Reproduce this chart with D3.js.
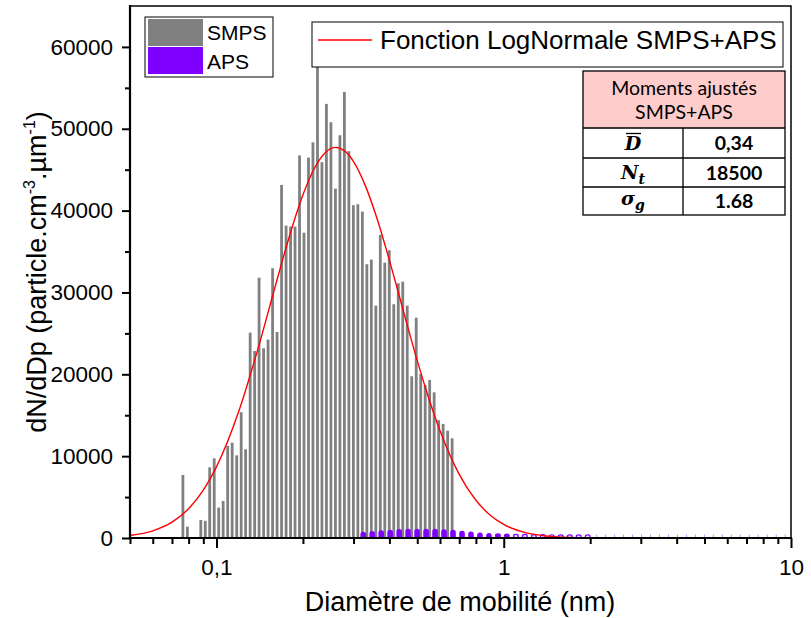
<!DOCTYPE html>
<html><head><meta charset="utf-8">
<script src="https://cdn.jsdelivr.net/npm/d3@7"></script>
<style>body{margin:0;background:#fff}svg{display:block}</style>
</head><body><svg id="c" width="811" height="618"></svg>
<script>
// ---------- DATA ----------
const smpsDiam = [0.0764,0.0792,0.0821,0.0851,0.0882,0.0914,0.0947,0.0982,0.1018,0.1055,
 0.1094,0.1134,0.1176,0.1219,0.1263,0.1310,0.1358,0.1407,0.1459,0.1512,
 0.1568,0.1625,0.1685,0.1747,0.1811,0.1877,0.1946,0.2017,0.2091,0.2167,
 0.2247,0.2329,0.2414,0.2503,0.2595,0.2690,0.2788,0.2890,0.2996,0.3106,
 0.3220,0.3338,0.3460,0.3587,0.3718,0.3854,0.3995,0.4142,0.4294,0.4451,
 0.4614,0.4783,0.4958,0.5140,0.5328,0.5523,0.5725,0.5935,0.6153,0.6378,0.6612];
const smpsValues = [7700,1380,0,0,2200,2100,8640,9740,3710,4520,
 11240,11650,10100,15360,10840,25090,22850,31810,23180,24240,
 32960,25170,43140,38170,38050,38050,46740,37310,46480,48350,
 58210,45920,53040,50800,42690,49210,54500,47260,40660,40780,
 39880,33450,34010,28390,37030,33640,35160,28560,31130,31320,
 28390,19760,26920,20040,18700,19310,17800,14400,13930,13110,12180];
const apsDiam = [0.3243,0.3485,0.3745,0.4024,0.4325,0.4647,0.4994,0.5367,0.5767,0.6197,
 0.6660,0.7157,0.7691,0.8265,0.8881,0.9544,1.0256,1.1021,1.1843,1.2727,
 1.3677,1.4697,1.5794,1.6972,1.8238,1.9599,2.1061,2.2632,2.4321,2.6135,
 2.8085,3.0181,3.2432,3.4852,3.7452,4.0246,4.3249,4.6476,4.9943,5.3669,
 5.7674,6.1976,6.6600,7.1569,7.6909,8.2647,8.8813,9.5439];
const apsValues = [770,855,940,1015,1100,1140,1140,1120,1120,1080,
 1000,900,780,660,600,530,480,430,400,370,
 350,330,320,300,290,280,0,0,0,0,
 0,0,0,0,0,0,0,0,0,0,
 0,0,0,0,0,0,0,0];
const fitDiam = [0.05,0.06,0.07,0.08,0.09,0.10,0.12,0.14,0.16,0.18,0.20,0.22,0.24,0.26,0.28,0.30,
 0.33,0.36,0.40,0.45,0.50,0.55,0.60,0.70,0.80,0.90,1.0,1.2,1.4,1.6,1.8,2.0,2.5,3.0,5.0,10];
const fitValues = [303,870,1930,3584,5856,8694,15632,23320,30696,37028,41928,45269,47139,47729,47270,45996,
 43023,39302,33922,27403,21673,16917,13102,7775,4606,2748,1657,627,250,105,46,21,2,0,0,0];
const xMajorTicks = [0.1,1,10];
const xTickLabels = ["0,1","1","10"];
const xMinorTicks = [0.05,0.06,0.07,0.08,0.09,0.2,0.3,0.4,0.5,0.6,0.7,0.8,0.9,2,3,4,5,6,7,8,9];
const yMajorTicks = [0,10000,20000,30000,40000,50000,60000];
const yMinorTicks = [5000,15000,25000,35000,45000,55000];
const legendLabels = ["SMPS","APS"];
const fitLabel = "Fonction LogNormale SMPS+APS";
const tableTitle = ["Moments ajustés","SMPS+APS"];
const tableValues = ["0,34","18500","1.68"];

// ---------- LAYOUT ----------
const L=130, R=791, T=6, B=538;
const svg = d3.select("#c");
const x = d3.scaleLog().domain([0.05,10]).range([L,R]);
const y = d3.scaleLinear().domain([0,65000]).range([B,T]);
const GRAY="#808080", PURPLE="#8000ff", RED="#ff0000";
const FONT="'Liberation Sans', Arial, sans-serif";

svg.append("defs").append("clipPath").attr("id","clip")
  .append("rect").attr("x",L).attr("y",T).attr("width",R-L).attr("height",B-T);
const plot = svg.append("g").attr("clip-path","url(#clip)");

// SMPS bars
const bw = 2.8;
plot.selectAll("rect.smps").data(smpsDiam.map((d,i)=>({d,v:smpsValues[i]})).filter(e=>e.v>0))
  .join("rect").attr("class","smps")
  .attr("x",e=>x(e.d)-bw/2).attr("width",bw)
  .attr("y",e=>y(e.v)).attr("height",e=>B-y(e.v))
  .attr("fill",GRAY);

// APS bars (rounded tops)
const aps = apsDiam.map((d,i)=>({d,v:apsValues[i]}));
const r = 2.8;
plot.selectAll("path.aps").data(aps.filter(e=>e.v>=600)).join("path").attr("class","aps")
  .attr("d",e=>{const cx=x(e.d), yt=y(e.v);
     return `M${cx-r},${B}L${cx-r},${yt+r}A${r},${r} 0 0 1 ${cx+r},${yt+r}L${cx+r},${B}Z`;})
  .attr("fill",PURPLE);
plot.selectAll("ellipse.aps").data(aps.filter(e=>e.v>0 && e.v<600)).join("ellipse").attr("class","aps")
  .attr("cx",e=>x(e.d)).attr("cy",e=>(y(e.v)+B-1)/2+0.3)
  .attr("rx",2.4).attr("ry",e=>Math.max(1.7,(B-1-y(e.v))/2))
  .attr("fill",e=>e.v>=450? PURPLE : "#e8d8ff").attr("stroke",PURPLE).attr("stroke-width",1.2);
plot.selectAll("line.aps0").data(aps.filter(e=>e.v===0)).join("line").attr("class","aps0")
  .attr("x1",e=>x(e.d)).attr("x2",e=>x(e.d)).attr("y1",B-3.5).attr("y2",B)
  .attr("stroke","#b890ff").attr("stroke-width",1);

// Fit curve
const line = d3.line().x((d,i)=>x(fitDiam[i])).y(d=>y(d)).curve(d3.curveMonotoneX);
plot.append("path").datum(fitValues).attr("d",line)
  .attr("fill","none").attr("stroke",RED).attr("stroke-width",1.4);

// Axes
const ax = svg.append("g").attr("transform",`translate(0,${B})`);
ax.call(d3.axisBottom(x).tickValues(xMajorTicks).tickSize(10).tickFormat((d,i)=>xTickLabels[i]).tickPadding(6));
const axm = svg.append("g").attr("transform",`translate(0,${B})`);
axm.call(d3.axisBottom(x).tickValues(xMinorTicks).tickSize(6).tickFormat(""));
const ay = svg.append("g").attr("transform",`translate(${L},0)`);
ay.call(d3.axisLeft(y).tickValues(yMajorTicks).tickSize(8).tickFormat(d3.format("d")).tickPadding(9));
const aym = svg.append("g").attr("transform",`translate(${L},0)`);
aym.call(d3.axisLeft(y).tickValues(yMinorTicks).tickSize(5).tickFormat(""));
[ax,axm,ay,aym].forEach(g=>{
  g.select(".domain").remove();
  g.selectAll(".tick line").attr("stroke","#000").attr("stroke-width",2);
  g.selectAll(".tick text").attr("font-family",FONT).attr("font-size",22.5).attr("fill","#000");
});
ax.selectAll(".tick text").attr("dy","0.95em");
// frame
svg.append("rect").attr("x",L).attr("y",T).attr("width",R-L).attr("height",B-T)
  .attr("fill","none").attr("stroke","#000").attr("stroke-width",1.5);
svg.append("line").attr("x1",L-1).attr("x2",R+1).attr("y1",B).attr("y2",B).attr("stroke","#000").attr("stroke-width",2.2);
svg.append("line").attr("x1",L).attr("x2",L).attr("y1",T-1).attr("y2",B+1).attr("stroke","#000").attr("stroke-width",2.2);

// Axis titles
svg.append("text").attr("x",460).attr("y",611).attr("text-anchor","middle")
  .attr("font-family",FONT).attr("font-size",27).text("Diamètre de mobilité (nm)");
const yt = svg.append("text").attr("transform","translate(46,272) rotate(-90)")
  .attr("text-anchor","middle").attr("font-family",FONT).attr("font-size",27);
yt.append("tspan").text("dN/dDp (particle.cm");
yt.append("tspan").attr("font-size",16).attr("dy",-11).text("-3");
yt.append("tspan").attr("dy",11).text(".µm");
yt.append("tspan").attr("font-size",16).attr("dy",-11).text("-1");
yt.append("tspan").attr("dy",11).text(")");

// Legend 1
const lg = svg.append("g");
lg.append("rect").attr("x",145).attr("y",17).attr("width",128).attr("height",60)
  .attr("fill","#fff").attr("stroke","#000").attr("stroke-width",1);
[GRAY,PURPLE].forEach((c,i)=>{
  lg.append("rect").attr("x",148).attr("y",19+i*28).attr("width",55).attr("height",27).attr("fill",c);
  lg.append("text").attr("x",207).attr("y",40+i*29).attr("font-family",FONT).attr("font-size",21).text(legendLabels[i]);
});
// Legend 2
const lg2 = svg.append("g");
lg2.append("rect").attr("x",312).attr("y",22).attr("width",471).attr("height",45)
  .attr("fill","#fff").attr("stroke","#000").attr("stroke-width",1);
lg2.append("line").attr("x1",318).attr("x2",372).attr("y1",40).attr("y2",40).attr("stroke",RED).attr("stroke-width",1.4);
lg2.append("text").attr("x",380).attr("y",49).attr("font-family",FONT).attr("font-size",26).text(fitLabel);

// Table
const tb = svg.append("g");
const tx0=583, tx1=785, tmid=683;
const rowsY=[71,128,158,187,215];
tb.append("rect").attr("x",tx0).attr("y",rowsY[0]).attr("width",tx1-tx0).attr("height",rowsY[1]-rowsY[0]).attr("fill","#ffcccc");
tb.append("rect").attr("x",tx0).attr("y",rowsY[1]).attr("width",tx1-tx0).attr("height",rowsY[4]-rowsY[1]).attr("fill","#fff");
const TF="Lato, 'Open Sans', sans-serif";
tb.append("text").attr("x",(tx0+tx1)/2).attr("y",95).attr("text-anchor","middle").attr("font-family",TF).attr("font-size",19.5).text(tableTitle[0]);
tb.append("text").attr("x",(tx0+tx1)/2).attr("y",119).attr("text-anchor","middle").attr("font-family",TF).attr("font-size",19.5).text(tableTitle[1]);
for(let i=0;i<3;i++){
  const cy=(rowsY[i+1]+rowsY[i+2])/2;
  tb.append("text").attr("x",(tmid+tx1)/2).attr("y",cy+7).attr("text-anchor","middle")
    .attr("font-family",TF).attr("font-weight","bold").attr("font-size",19.5).text(tableValues[i]);
}
const MF="'DejaVu Serif','Liberation Serif',serif";
tb.append("text").attr("x",633).attr("y",(rowsY[1]+rowsY[2])/2+7).attr("text-anchor","middle")
  .attr("font-family",MF).attr("font-style","italic").attr("font-weight","bold").attr("font-size",19).text("D");
tb.append("line").attr("x1",626).attr("x2",641).attr("y1",133.5).attr("y2",133.5).attr("stroke","#000").attr("stroke-width",1.3);
const s2 = tb.append("text").attr("x",633).attr("y",(rowsY[2]+rowsY[3])/2+6).attr("text-anchor","middle")
  .attr("font-family",MF).attr("font-style","italic").attr("font-weight","bold").attr("font-size",19);
s2.append("tspan").text("N");
s2.append("tspan").attr("font-size",14).attr("dy",5).text("t");
const s3 = tb.append("text").attr("x",633).attr("y",(rowsY[3]+rowsY[4])/2+4).attr("text-anchor","middle")
  .attr("font-family",MF).attr("font-style","italic").attr("font-weight","bold").attr("font-size",19);
s3.append("tspan").text("σ");
s3.append("tspan").attr("font-size",14).attr("dy",5).text("g");
// grid lines
tb.append("rect").attr("x",tx0).attr("y",rowsY[0]).attr("width",tx1-tx0).attr("height",rowsY[4]-rowsY[0])
  .attr("fill","none").attr("stroke","#000").attr("stroke-width",1.3);
rowsY.slice(1,4).forEach(yy=>tb.append("line").attr("x1",tx0).attr("x2",tx1).attr("y1",yy).attr("y2",yy).attr("stroke","#000").attr("stroke-width",1.3));
tb.append("line").attr("x1",tmid).attr("x2",tmid).attr("y1",rowsY[1]).attr("y2",rowsY[4]).attr("stroke","#000").attr("stroke-width",1.3);
</script></body></html>
